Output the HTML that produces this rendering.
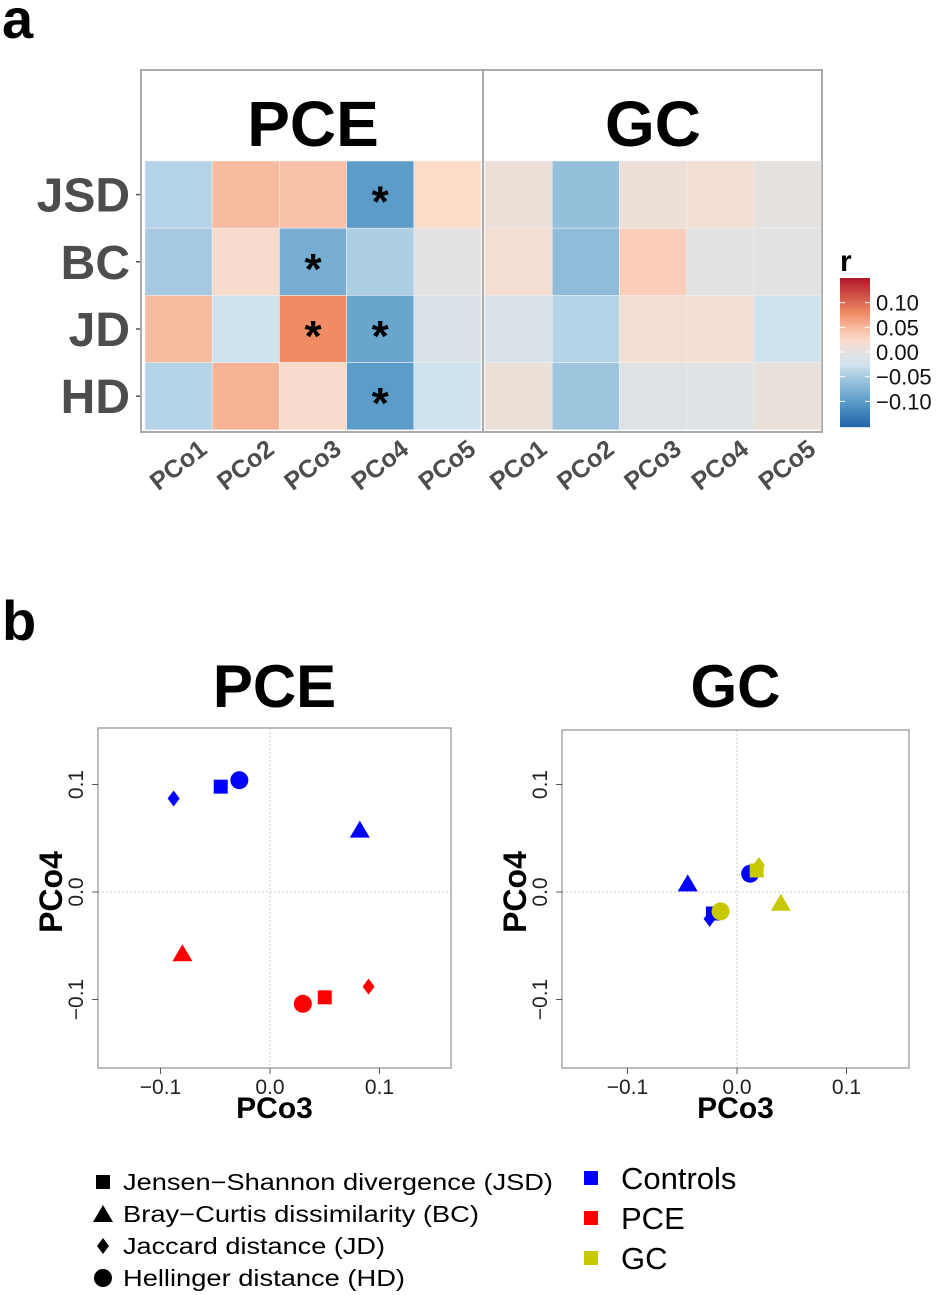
<!DOCTYPE html>
<html><head><meta charset="utf-8"><style>
html,body{margin:0;padding:0;background:#fff}
svg{display:block;font-family:"Liberation Sans",Arial,sans-serif}
</style></head><body>
<svg id="fig" width="944" height="1295" viewBox="0 0 944 1295" xmlns="http://www.w3.org/2000/svg">
<text x="2" y="38" font-size="56" font-weight="bold">a</text>
<text x="2" y="640" font-size="56" font-weight="bold">b</text>
<g id="heat"></g>
<g id="cbar"></g>
<g id="scat"></g>
<g id="leg"></g>
</svg>
<script>
const rowLabels=["JSD","BC","JD","HD"];
const colLabels=["PCo1","PCo2","PCo3","PCo4","PCo5"];
const groups=["PCE","GC"];
const pceValues=[[-0.04,0.05,0.045,-0.1,0.025],[-0.05,0.02,-0.08,-0.045,0.0],[0.05,-0.025,0.08,-0.09,-0.01],[-0.04,0.055,0.02,-0.1,-0.025]];
const gcValues=[[0.01,-0.06,0.01,0.015,0.003],[0.017,-0.065,0.035,0.0,0.0],[-0.012,-0.04,0.015,0.017,-0.025],[0.01,-0.055,-0.005,-0.005,0.008]];
const pceStars=[[0,0,0,1,0],[0,0,1,0,0],[0,0,1,1,0],[0,0,0,1,0]];
const gcStars=[[0,0,0,0,0],[0,0,0,0,0],[0,0,0,0,0],[0,0,0,0,0]];
const cbarTicks=[0.10,0.05,0.00,-0.05,-0.10];
// scatter data
const metrics=["JSD","BC","JD","HD"];
const pceX={Controls:[-0.045,0.082,-0.088,-0.028],PCE:[0.05,-0.08,0.09,0.03]};
const pceY={Controls:[0.098,0.058,0.087,0.104],PCE:[-0.098,-0.057,-0.088,-0.104]};
const gcX={Controls:[-0.022,-0.045,-0.025,0.012],GC:[0.018,0.04,0.02,-0.015]};
const gcY={Controls:[-0.02,0.008,-0.025,0.017],GC:[0.02,-0.01,0.025,-0.018]};
const axisTicks=[-0.1,0.0,0.1];
const tickText=["\u22120.1","0.0","0.1"];

const NS="http://www.w3.org/2000/svg";
function mk(p,t,a,txt){const e=document.createElementNS(NS,t);for(const k in a)e.setAttribute(k,a[k]);if(txt!==undefined)e.textContent=txt;p.appendChild(e);return e;}
const stops=[[-0.15,[33,102,172]],[-0.1,[91,156,201]],[-0.05,[164,201,224]],[-0.025,[207,227,239]],[0,[226,226,226]],[0.025,[252,219,201]],[0.05,[247,187,160]],[0.08,[239,139,101]],[0.15,[178,24,43]]];
function col(v){v=Math.max(-0.15,Math.min(0.15,v));for(let i=0;i<stops.length-1;i++){const[a,ca]=stops[i],[b,cb]=stops[i+1];if(v<=b){const t=(v-a)/(b-a);return"rgb("+ca.map((c,j)=>Math.round(c+(cb[j]-c)*t)).join(",")+")";}}return"rgb(178,24,43)";}

// heatmap
const H=document.getElementById('heat');
const top0=161,rowH=67.2,cw=67.2,gx=[145,485];
let e=mk(H,'rect',{x:141,y:70,width:681,height:362,fill:'none',stroke:'#aaa','stroke-width':2});

e=mk(H,'line',{x1:483,y1:70,x2:483,y2:432,stroke:'#aaa','stroke-width':2});

[pceValues,gcValues].forEach((vals,g)=>{
  const stars=g?gcStars:pceStars;
  e=mk(H,'text',{x:gx[g]+cw*2.5,y:146,'font-size':64,'font-weight':'bold','text-anchor':'middle'},groups[g]);
  
  vals.forEach((row,r)=>row.forEach((v,c)=>{
    e=mk(H,'rect',{x:gx[g]+c*cw,y:top0+r*rowH,width:cw,height:rowH,fill:col(v),stroke:'#f0f0f0','stroke-width':0.6});
    
    if(stars[r][c]){e=mk(H,'text',{x:gx[g]+c*cw+cw/2,y:top0+r*rowH+rowH/2+22,'font-size':44,'font-weight':'bold','text-anchor':'middle'},'*');
      }
  }));
  colLabels.forEach((l,c)=>{const cx=gx[g]+c*cw+cw/2;const tx=cx+30,ty=452;
    e=mk(H,'text',{x:tx,y:ty,'font-size':25,'font-weight':'bold',fill:'#4d4d4d','text-anchor':'end',transform:'rotate(-38 '+tx+' '+ty+')'},l);
    });
});
rowLabels.forEach((l,r)=>{const cy=top0+r*rowH+rowH/2;
  e=mk(H,'text',{x:130,y:cy+17,'font-size':48,'font-weight':'bold',fill:'#4d4d4d','text-anchor':'end'},l);
  
  mk(H,'line',{x1:136,x2:140,y1:cy,y2:cy,stroke:'#555','stroke-width':1.5});});

// colorbar
const C=document.getElementById('cbar');
e=mk(C,'text',{x:840,y:271,'font-size':30,'font-weight':'bold'},'r');

const cb0=278,cb1=427,cz=352,cs=(cz-cb0)/0.15;
for(let y=cb0;y<cb1;y+=1){mk(C,'rect',{x:840,y:y,width:30,height:1.2,fill:col((cz-y)/cs)});}
cbarTicks.forEach(t=>{const y=cz-t*cs;
  mk(C,'line',{x1:840,x2:845,y1:y,y2:y,stroke:'#fff'});mk(C,'line',{x1:865,x2:870,y1:y,y2:y,stroke:'#fff'});
  e=mk(C,'text',{x:876,y:y+8,'font-size':22,fill:'#111'},(t<0?'\u2212':'')+Math.abs(t).toFixed(2));
  });

// scatter
const S=document.getElementById('scat');
const colors={Controls:'#0000ff',PCE:'#ff0000',GC:'#c8c800'};
function shape(p,m,x,y,c){
  if(m==="JSD")return mk(p,'rect',{x:x-7,y:y-7,width:14,height:14,fill:c});
  if(m==="BC")return mk(p,'polygon',{points:`${x},${y-9} ${x+10},${y+8} ${x-10},${y+8}`,fill:c});
  if(m==="JD")return mk(p,'polygon',{points:`${x},${y-8} ${x+6},${y} ${x},${y+8} ${x-6},${y}`,fill:c});
  return mk(p,'circle',{cx:x,cy:y,r:9,fill:c});
}
const panels=[{t:"PCE",x0:98,x1:451,zx:270,y0:728,y1:1068,zy:892,X:pceX,Y:pceY},{t:"GC",x0:562,x1:909,zx:737,y0:730,y1:1068,zy:892,X:gcX,Y:gcY}];
panels.forEach(P=>{
  const sx=v=>P.zx+v*1095,sy=v=>P.zy-v*1075;
  const g=mk(S,'g',{});
  
  e=mk(g,'text',{x:(P.x0+P.x1)/2,y:707,'font-size':60,'font-weight':'bold','text-anchor':'middle'},P.t);
  
  mk(g,'line',{x1:sx(0),x2:sx(0),y1:P.y0,y2:P.y1,stroke:'#ccc','stroke-dasharray':'2,2'});
  mk(g,'line',{x1:P.x0,x2:P.x1,y1:sy(0),y2:sy(0),stroke:'#ccc','stroke-dasharray':'2,2'});
  mk(g,'rect',{x:P.x0,y:P.y0,width:P.x1-P.x0,height:P.y1-P.y0,fill:'none',stroke:'#999','stroke-width':1.3});
  axisTicks.forEach((t,i)=>{
    mk(g,'line',{x1:sx(t),x2:sx(t),y1:P.y1,y2:P.y1+6,stroke:'#555'});
    e=mk(g,'text',{x:sx(t),y:P.y1+26,'font-size':21,'text-anchor':'middle',fill:'#222'},tickText[i]);
    
    mk(g,'line',{x1:P.x0-6,x2:P.x0,y1:sy(t),y2:sy(t),stroke:'#555'});
    e=mk(g,'text',{x:P.x0-15,y:sy(t),'font-size':21,'text-anchor':'middle',fill:'#222',transform:`rotate(-90 ${P.x0-15} ${sy(t)})`},tickText[i]);
    
  });
  e=mk(g,'text',{x:(P.x0+P.x1)/2,y:1118,'font-size':30,'font-weight':'bold','text-anchor':'middle'},'PCo3');
  
  e=mk(g,'text',{x:P.x0-36,y:892,'font-size':32,'font-weight':'bold','text-anchor':'middle',transform:`rotate(-90 ${P.x0-36} 892)`},'PCo4');
  
  Object.keys(P.X).forEach(grp=>{
    metrics.forEach((m,i)=>{
      const pt=shape(g,m,sx(P.X[grp][i]),sy(P.Y[grp][i]),colors[grp]);
      
      
    });
  });
});

// legend
const L=document.getElementById('leg');
const legText=["Jensen\u2212Shannon divergence (JSD)","Bray\u2212Curtis dissimilarity (BC)","Jaccard distance (JD)","Hellinger distance (HD)"];
const legLen=[430,356,262,282];
metrics.forEach((m,i)=>{const y=1182+i*32;
  const s=shape(L,m,103,y,'#000');
  
  e=mk(L,'text',{x:123,y:y+8,'font-size':23,textLength:legLen[i],lengthAdjust:'spacingAndGlyphs'},legText[i]);
  });
["Controls","PCE","GC"].forEach((gname,i)=>{const y=1178+i*40;
  e=mk(L,'rect',{x:584,y:y-7,width:14,height:14,fill:colors[gname]});
  
  e=mk(L,'text',{x:621,y:y+11,'font-size':31},gname);
  });
</script>
</body></html>
